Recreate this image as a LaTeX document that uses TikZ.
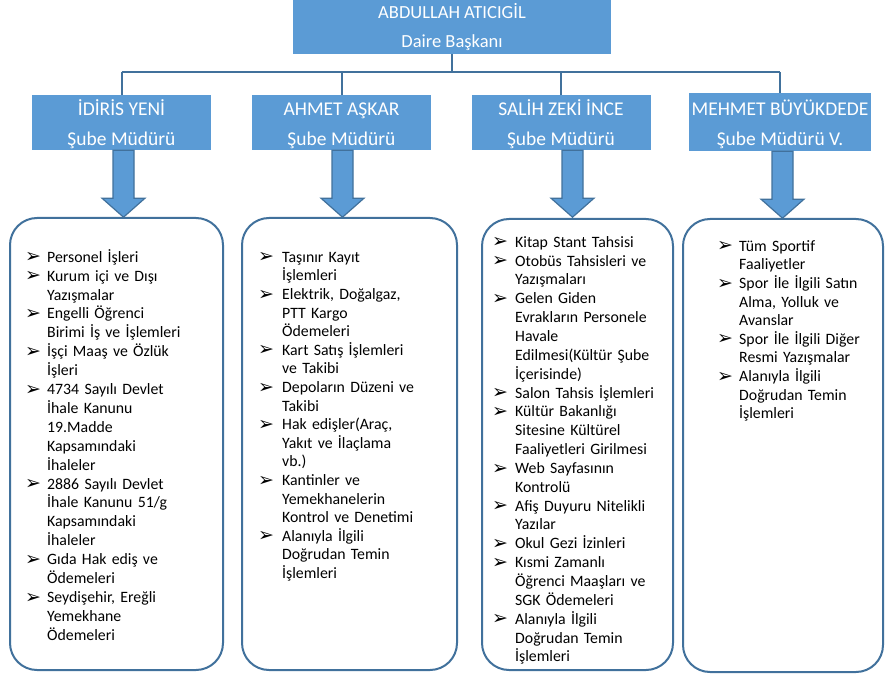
\documentclass[tikz,border=0pt]{standalone}
\usepackage{fontspec}
\setmainfont{Carlito}
\newfontfamily\dejavu{DejaVu Sans}
\definecolor{hdrblue}{HTML}{5B9BD5}
\definecolor{lineblue}{HTML}{41719C}
\newlength\bind
\newcommand\bu{\makebox[\bind][l]{\raisebox{-0.6pt}{\dejavu\fontsize{19}{19}\selectfont ➢}}}
\newcommand\ct{\hspace*{\bind}}
\newcommand\fst{\vrule height14pt width0pt depth0pt}
\newcommand\hst{\vrule height19.5pt width0pt depth0pt}
\newcommand\barr[2]{\draw[barrow] (#1.south) ++(#2,0) ++(-10.5,0) -- ++(0,48) -- ++(-11,0) -- ++(21.5,19) -- ++(21.5,-19) -- ++(-11,0) -- ++(0,-48) -- cycle;}
\begin{document}
\begin{tikzpicture}[x=1pt,y=-1pt,
 hdr/.style={fill=hdrblue, text=white, align=center, inner sep=0pt},
 conn/.style={draw=lineblue, line width=2pt},
 barrow/.style={fill=hdrblue, draw=lineblue, line width=1.2pt, line join=miter},
 listbox/.style={draw=lineblue, line width=2pt, rounded corners=27pt, fill=white, inner sep=0pt},
 listtext/.style={anchor=north west, inner sep=0pt, align=left}]
\useasboundingbox (0,0) rectangle (885,676);
% top box
\node[hdr, minimum width=318pt, minimum height=54pt, font=\fontsize{18.5}{29.5}\selectfont] (top) at (452,27) {ABDULLAH ATICIGİL\\Daire Başkanı};
% headers
\begin{scope}[every node/.append style={hdr, minimum width=179pt, minimum height=55pt, font=\fontsize{19.5}{30}\selectfont}]
\node (h1) at (121.5,122.5) {\hst İDİRİS YENİ\\Şube Müdürü};
\node (h2) at (341.5,122.5) {\hst AHMET AŞKAR\\Şube Müdürü};
\node (h3) at (561,122.5) {\hst SALİH ZEKİ İNCE\\Şube Müdürü};
\node[minimum width=182pt, minimum height=58pt] (h4) at (780,122) {\hst MEHMET BÜYÜKDEDE\\Şube Müdürü V.};
\end{scope}
% connectors
\coordinate (bus) at (452,72);
\draw[conn] (top.south) -- (bus);
\draw[conn] (bus -| h1.north) -- (bus -| h4.north);
\foreach \h in {h1,h2,h3,h4} \draw[conn] (bus -| \h.north) -- (\h.north);
% list boxes
\node[listbox, minimum width=213pt, minimum height=452pt] (b1) at (116.5,444) {};
\node[listbox, minimum width=215pt, minimum height=452pt] (b2) at (349.5,444) {};
\node[listbox, minimum width=191pt, minimum height=451pt] (b3) at (577.5,444.5) {};
\node[listbox, minimum width=200pt, minimum height=453pt] (b4) at (783,445.5) {};
% block arrows
\barr{h1}{2}
\barr{h2}{1}
\barr{h3}{11.5}
\barr{h4}{2.5}
% list texts
\node[listtext, text width=195pt, font=\fontsize{15.8}{18.9}\selectfont] (t1) at (25,248) {\setlength\bind{22pt}\fst\bu Personel İşleri\\
\bu Kurum içi ve Dışı\\ \ct Yazışmalar\\
\bu Engelli Öğrenci\\ \ct Birimi İş ve İşlemleri\\
\bu İşçi Maaş ve Özlük\\ \ct İşleri\\
\bu 4734 Sayılı Devlet\\ \ct İhale Kanunu\\ \ct 19.Madde\\ \ct Kapsamındaki\\ \ct İhaleler\\
\bu 2886 Sayılı Devlet\\ \ct İhale Kanunu 51/g\\ \ct Kapsamındaki\\ \ct İhaleler\\
\bu Gıda Hak ediş ve\\ \ct Ödemeleri\\
\bu Seydişehir, Ereğli\\ \ct Yemekhane\\ \ct Ödemeleri};
\node[listtext, text width=192pt, font=\fontsize{15.8}{18.6}\selectfont] (t2) at (258,248) {\setlength\bind{24pt}\fst\bu Taşınır Kayıt\\ \ct İşlemleri\\
\bu Elektrik, Doğalgaz,\\ \ct PTT Kargo\\ \ct Ödemeleri\\
\bu Kart Satış İşlemleri\\ \ct ve Takibi\\
\bu Depoların Düzeni ve\\ \ct Takibi\\
\bu Hak edişler(Araç,\\ \ct Yakıt ve İlaçlama\\ \ct vb.)\\
\bu Kantinler ve\\ \ct Yemekhanelerin\\ \ct Kontrol ve Denetimi\\
\bu Alanıyla İlgili\\ \ct Doğrudan Temin\\ \ct İşlemleri};
\node[listtext, text width=178pt, font=\fontsize{15.8}{18.85}\selectfont] (t3) at (492,233) {\setlength\bind{23pt}\fst\bu Kitap Stant Tahsisi\\
\bu Otobüs Tahsisleri ve\\ \ct Yazışmaları\\
\bu Gelen Giden\\ \ct Evrakların Personele\\ \ct Havale\\ \ct Edilmesi(Kültür Şube\\ \ct İçerisinde)\\
\bu Salon Tahsis İşlemleri\\
\bu Kültür Bakanlığı\\ \ct Sitesine Kültürel\\ \ct Faaliyetleri Girilmesi\\
\bu Web Sayfasının\\ \ct Kontrolü\\
\bu Afiş Duyuru Nitelikli\\ \ct Yazılar\\
\bu Okul Gezi İzinleri\\
\bu Kısmi Zamanlı\\ \ct Öğrenci Maaşları ve\\ \ct SGK Ödemeleri\\
\bu Alanıyla İlgili\\ \ct Doğrudan Temin\\ \ct İşlemleri};
\node[listtext, text width=160pt, font=\fontsize{15.8}{18.6}\selectfont] (t4) at (717,237) {\setlength\bind{22pt}\fst\bu Tüm Sportif\\ \ct Faaliyetler\\
\bu Spor İle İlgili Satın\\ \ct Alma, Yolluk ve\\ \ct Avanslar\\
\bu Spor İle İlgili Diğer\\ \ct Resmi Yazışmalar\\
\bu Alanıyla İlgili\\ \ct Doğrudan Temin\\ \ct İşlemleri};
\end{tikzpicture}
\end{document}
